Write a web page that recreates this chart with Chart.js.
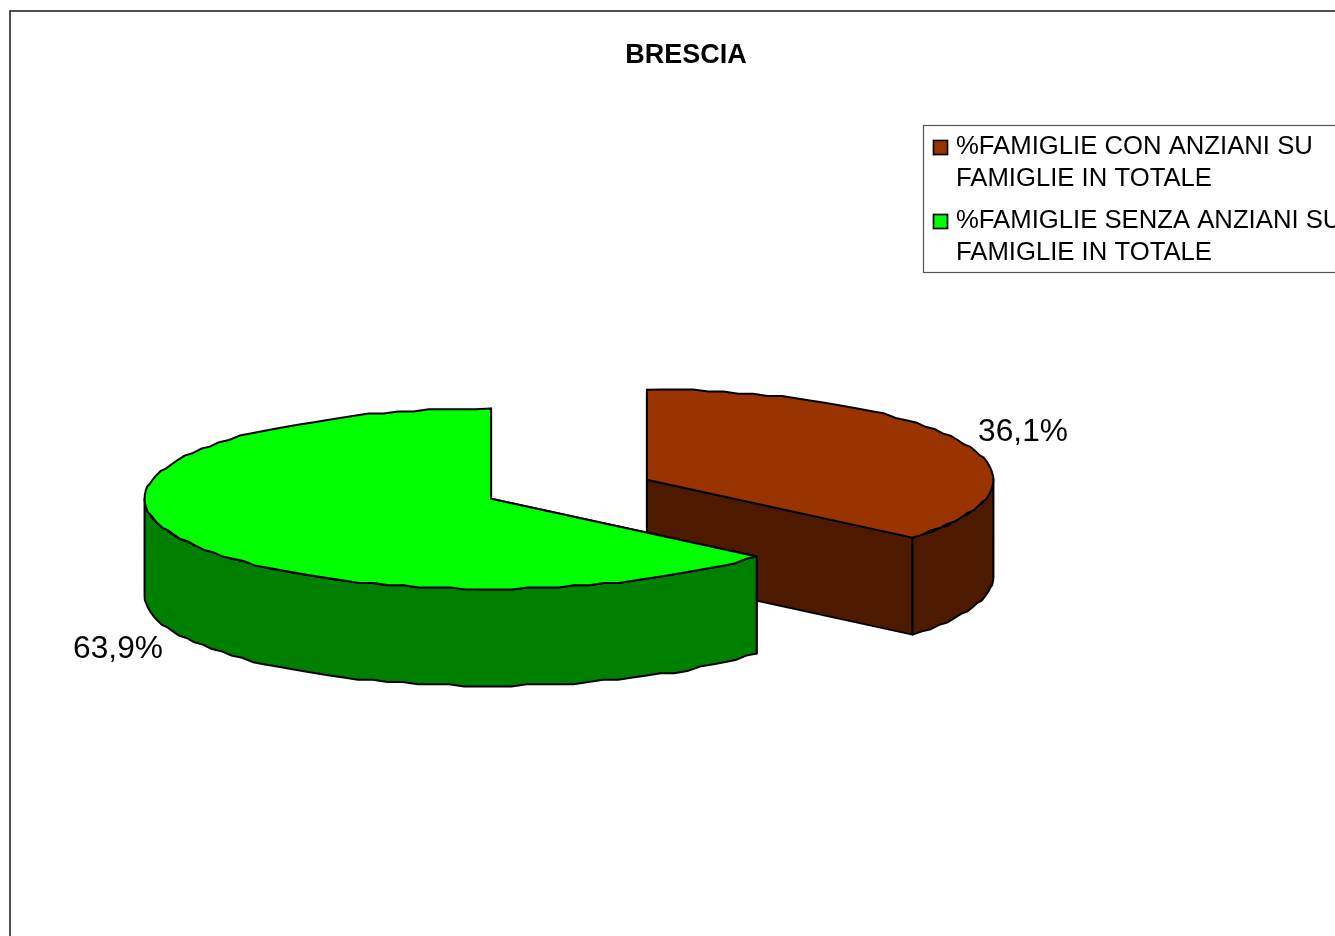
<!DOCTYPE html>
<html>
<head>
<meta charset="utf-8">
<title>BRESCIA</title>
<script src="https://cdn.jsdelivr.net/npm/chart.js@4"></script>
<style>
  html, body { margin: 0; padding: 0; background: #fff; overflow: hidden; width: 1335px; height: 936px; }
  #wrap { position: absolute; left: 0; top: 0; width: 1372px; height: 936px; }
</style>
</head>
<body>
<div id="wrap"><canvas id="pieChart" width="1372" height="936"></canvas></div>
<script>
const chartTitle = 'BRESCIA';
const categories = [
  ['%FAMIGLIE CON ANZIANI SU', 'FAMIGLIE IN TOTALE'],
  ['%FAMIGLIE SENZA ANZIANI SU', 'FAMIGLIE IN TOTALE']
];
const shares = [36.1, 63.9];
const topColors = ['#993300', '#00FF00'];
const wallColors = ['#4D1A00', '#008000'];

// look of the 3D pie
const flatten = 0.26;     // ellipse height / width
const depth = 97;
const explode = 86;
const pieRadius = 346.5;
const pieShiftX = -117;   // pie sits left of the title centre
const rimGrid = 2.2;      // the old EMF outline is snapped to a coarse grid
const labelSpots = [[1023, 441], [118, 658]];
const font = 'Liberation Sans, Arial, sans-serif';

function traceRim(ctx, cx, cy, rx, ry, from, to) {
  const steps = Math.max(2, Math.round(Math.abs(to - from) / (Math.PI / 70)));
  for (let s = 0; s <= steps; s++) {
    const a = from + (to - from) * s / steps;
    const px = cx + Math.cos(a) * rx;
    let py = cy + Math.sin(a) * ry;
    if (s > 0 && s < steps) py = Math.round(py / rimGrid) * rimGrid;
    ctx.lineTo(px, py);
  }
}

const pie3d = {
  id: 'pie3d',
  beforeDraw(chart) {
    const ctx = chart.ctx;
    ctx.save();
    ctx.fillStyle = '#fff';
    ctx.fillRect(0, 0, chart.width, chart.height);
    ctx.strokeStyle = '#333';
    ctx.lineWidth = 1.7;
    ctx.strokeRect(10, 11, chart.width - 20, chart.height + 40);
    ctx.restore();
  },
  // the arcs keep their geometry from the library, only the painting is replaced
  beforeDatasetsDraw(chart) {
    const ctx = chart.ctx;
    chart.getDatasetMeta(0).data.forEach((arc, i) => {
      const { x, y, startAngle, endAngle, outerRadius } = arc.getProps(['x', 'y', 'startAngle', 'endAngle', 'outerRadius'], true);
      const mid = (startAngle + endAngle) / 2;
      const cx = x + pieShiftX + Math.cos(mid) * explode;
      const cy = y + Math.sin(mid) * explode * flatten;
      const ry = outerRadius * flatten;
      const rimX = a => cx + Math.cos(a) * outerRadius;
      const rimY = a => cy + Math.sin(a) * ry;

      ctx.save();
      ctx.lineWidth = 2;
      ctx.lineJoin = 'round';
      ctx.strokeStyle = '#000';

      // cut faces
      ctx.fillStyle = wallColors[i];
      [startAngle, endAngle].forEach(a => {
        ctx.beginPath();
        ctx.moveTo(cx, cy);
        ctx.lineTo(rimX(a), rimY(a));
        ctx.lineTo(rimX(a), rimY(a) + depth);
        ctx.lineTo(cx, cy + depth);
        ctx.closePath();
        ctx.fill();
        ctx.stroke();
      });

      // outer wall, only the part turned to the viewer
      const a0 = Math.max(startAngle, 0);
      const a1 = Math.min(endAngle, Math.PI);
      ctx.beginPath();
      traceRim(ctx, cx, cy, outerRadius, ry, a0, a1);
      traceRim(ctx, cx, cy + depth, outerRadius, ry, a1, a0);
      ctx.closePath();
      ctx.fill();
      ctx.stroke();

      // top
      ctx.fillStyle = topColors[i];
      ctx.beginPath();
      ctx.moveTo(cx, cy);
      traceRim(ctx, cx, cy, outerRadius, ry, startAngle, endAngle);
      ctx.closePath();
      ctx.fill();
      ctx.stroke();
      ctx.restore();
    });
    return false;
  },
  afterDraw(chart) {
    const ctx = chart.ctx;
    ctx.save();
    ctx.fillStyle = '#000';
    ctx.font = '31.7px ' + font;
    ctx.textAlign = 'center';
    ctx.textBaseline = 'alphabetic';
    shares.forEach((v, i) => {
      ctx.fillText(v.toFixed(1).replace('.', ',') + '%', labelSpots[i][0], labelSpots[i][1]);
    });

    // legend box, runs off the right side like the original
    ctx.strokeStyle = '#555';
    ctx.lineWidth = 1.2;
    ctx.strokeRect(923.5, 125.5, 440, 147);
    ctx.textAlign = 'left';
    ctx.font = '25.7px ' + font;
    const keyY = [140, 214];
    const textY = [[154, 186], [228, 260]];
    categories.forEach((lines, i) => {
      ctx.fillStyle = topColors[i];
      ctx.strokeStyle = '#000';
      ctx.lineWidth = 1.7;
      ctx.fillRect(933.5, keyY[i] + 0.5, 14, 14);
      ctx.strokeRect(933.5, keyY[i] + 0.5, 14, 14);
      ctx.fillStyle = '#000';
      lines.forEach((t, j) => ctx.fillText(t, 956, textY[i][j]));
    });
    ctx.restore();
  }
};

new Chart(document.getElementById('pieChart').getContext('2d'), {
  type: 'pie',
  data: {
    labels: categories,
    datasets: [{ data: shares, backgroundColor: topColors, borderColor: '#000' }]
  },
  options: {
    responsive: false,
    animation: false,
    radius: pieRadius,
    layout: { padding: { bottom: 29 } },
    plugins: {
      legend: { display: false },
      tooltip: { enabled: false },
      title: {
        display: true,
        text: chartTitle,
        color: '#000',
        font: { family: font, size: 27, weight: 'bold' },
        padding: { top: 39, bottom: 0 }
      }
    }
  },
  plugins: [pie3d]
});
</script>
</body>
</html>
